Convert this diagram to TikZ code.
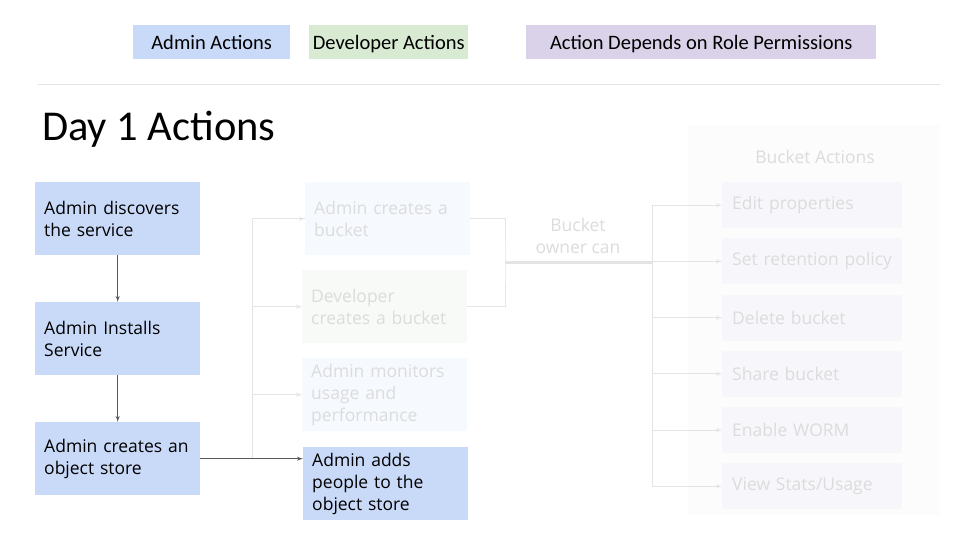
\documentclass[tikz,border=0pt]{standalone}
\usepackage{fontspec}
\setmainfont{Open Sans}
\newfontfamily\keyfont{Carlito}
\usepackage{tikz}
\usetikzlibrary{arrows}
\usetikzlibrary{positioning}
\definecolor{ablue}{HTML}{C9DAF8}
\definecolor{dgreen}{HTML}{D9EAD3}
\definecolor{rpurple}{HTML}{D9D2E9}
\definecolor{fblue}{HTML}{F6F9FE}
\definecolor{fgreen}{HTML}{F7FAF6}
\definecolor{fitem}{HTML}{F7F7FB}
\definecolor{fpanel}{HTML}{FCFCFD}
\definecolor{ftext}{HTML}{DCDCDC}
\definecolor{fline}{HTML}{E4E4E4}
\definecolor{dline}{HTML}{595959}
\tikzset{box/.style = {fill=ablue, anchor=north west, minimum width=165, minimum height=73,
                       text width=147, inner xsep=9, inner ysep=0, align=left,
                       font=\fontsize{17.5}{22}\selectfont}}
\tikzset{faded/.style = {box, fill=fblue, text=ftext}}
\tikzset{item/.style = {faded, fill=fitem, minimum width=180, minimum height=46, text width=160, inner xsep=10}}
\tikzset{key/.style = {anchor=north west, minimum height=34, inner sep=0, text height=16.5, text depth=1.5,
                       font=\keyfont\fontsize{20.5}{22}\selectfont}}
\tikzset{dk/.style = {draw=dline, line width=1}}
\tikzset{lt/.style = {draw=fline, line width=1}}

\begin{document}
\begin{tikzpicture}[x=1pt, y=-1pt]
    \useasboundingbox [fill=white] (0, 0) rectangle (960, 540);

    % legend
    \node [key, fill=ablue, minimum width=157] (kadmin) at (133, 25) {Admin Actions};
    \node [key, fill=dgreen, minimum width=159] (kdev) at (309, 25) {Developer Actions};
    \node [key, fill=rpurple, minimum width=350] (krole) at (526, 25) {Action Depends on Role Permissions};
    \draw [draw=fline] (38, 84) -- (940, 84);

    \node [anchor=base west, inner sep=0, font=\keyfont\fontsize{42.5}{44}\selectfont] (title) at (42, 141) {Day 1 Actions};

    % bucket actions panel
    \fill [fpanel] (688, 125) rectangle (940, 515);
    \node [text=ftext, font=\fontsize{17.5}{22}\selectfont] (bacts) at (815, 157) {Bucket Actions};

    % left column
    \node [box] (disc) at (35, 182) {Admin discovers\\the service};
    \node [box] (inst) at (35, 302) {Admin Installs\\Service};
    \node [box] (store) at (35, 422) {Admin creates an\\object store};
    \draw [dk, -latex'] (disc) -- (inst);
    \draw [dk, -latex'] (inst) -- (store);

    % second column
    \node [faded] (cbkt) at (305, 182) {Admin creates a\\bucket};
    \node [faded, fill=fgreen] (dbkt) at (302, 270) {Developer\\creates a bucket};
    \node [faded] (mon) at (302, 358) {Admin monitors\\usage and\\performance};
    \node [box] (adds) at (303, 447) {Admin adds\\people to the\\object store};

    \coordinate (split) at (252, 459);
    \draw [lt] (split) |- (cbkt.west);
    \draw [lt, -latex'] (split |- cbkt.west) -- (cbkt.west);
    \draw [lt, -latex'] (split |- dbkt.west) -- (dbkt.west);
    \draw [lt, -latex'] (split |- mon.west) -- (mon.west);
    \draw [dk, -latex'] (store.east) -- (store.east -| adds.west);

    % bucket owner
    \coordinate (own) at (505, 262);
    \coordinate (hub) at (652, 262);
    \draw [lt] (cbkt.east) -| (own) |- (dbkt.east);
    \draw [lt, line width=3] (own) -- (hub);
    \node [text=ftext, align=center, font=\fontsize{17.5}{22}\selectfont] (owner) at (578, 236) {Bucket\\owner can};

    \foreach \i/\t in {1/Edit properties, 2/Set retention policy, 3/Delete bucket,
                       4/Share bucket, 5/Enable WORM, 6/{View Stats/Usage}} {
        \node [item] (e\i) at (722, {182 + 56.2 * (\i - 1)}) {\t};
        \draw [lt, -latex'] (hub |- e\i.west) -- (e\i.west);
    }
    \draw [lt] (hub |- e1.west) -- (hub |- e6.west);
\end{tikzpicture}
\end{document}
